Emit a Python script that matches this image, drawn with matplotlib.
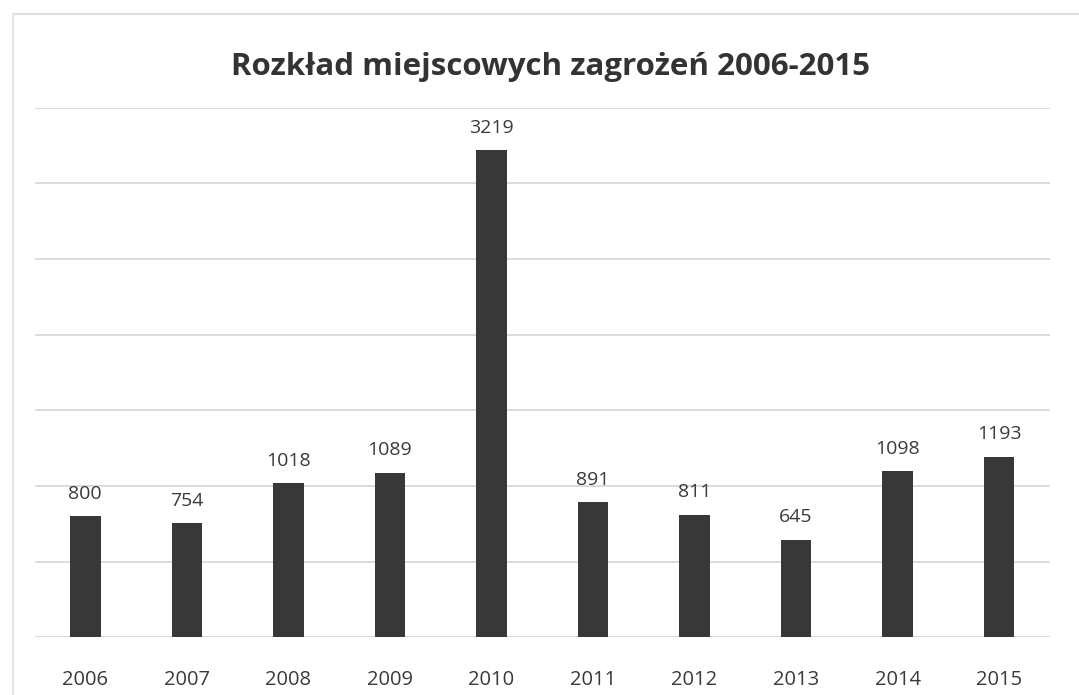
import matplotlib.pyplot as plt
import numpy as np

years = ['2006', '2007', '2008', '2009', '2010', '2011', '2012', '2013', '2014', '2015']
values = [800, 754, 1018, 1089, 3219, 891, 811, 645, 1098, 1193]

plt.rcParams['font.family'] = ['Open Sans', 'DejaVu Sans']

fig = plt.figure(figsize=(10.79, 6.95), dpi=100)
ax = fig.add_axes([0.032, 0.083, 0.941, 0.762])

x = np.arange(len(years))
bars = ax.bar(x, values, width=0.3, color='#383838', zorder=3)

for xi, v in zip(x, values):
    ax.text(xi, v + 90, str(v), ha='center', va='bottom', fontsize=14, color='#3a3a3a')

ax.set_ylim(0, 3500)
ax.set_xlim(-0.5, len(years) - 0.5)
ax.set_yticks(np.arange(0, 3501, 500))
ax.yaxis.grid(True, color='#d4d4d4', linewidth=1.2, zorder=0)
ax.tick_params(axis='y', left=False, labelleft=False)
ax.tick_params(axis='x', bottom=False, pad=20)
ax.set_xticks(x)
ax.set_xticklabels(years, fontsize=14.5, color='#3a3a3a')
for s in ax.spines.values():
    s.set_visible(False)

fig.text(0.51, 0.903, 'Rozkład miejscowych zagrożeń 2006-2015', ha='center', va='center',
         fontsize=22.5, fontweight='bold', color='#333333')

# faint frame of the scanned chart
fig.add_artist(plt.Line2D([0.012, 1.0], [0.98, 0.98], color='#dddddd', linewidth=1.5))
fig.add_artist(plt.Line2D([0.012, 0.012], [0.0, 0.98], color='#e6e6e6', linewidth=1.5))

fig.savefig('out.png')
